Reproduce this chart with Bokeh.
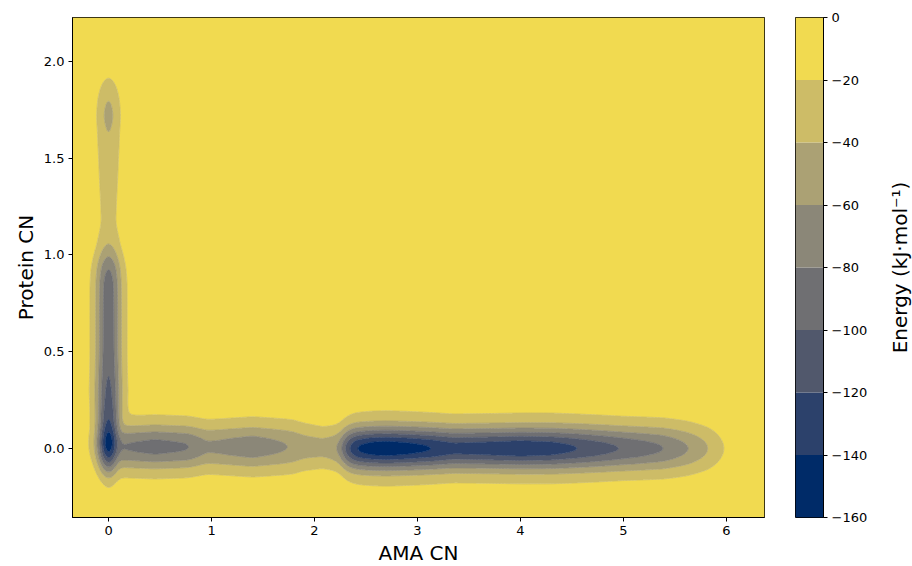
import numpy as np
from bokeh.plotting import figure
from bokeh.layouts import row
from bokeh.models import FixedTicker, Range1d
from bokeh.palettes import Cividis256
from bokeh.embed import file_html
from bokeh.resources import INLINE

# ---------------- data ----------------
levels = [-160, -140, -120, -100, -80, -60, -40, -20, 0]
level_labels = ["−160", "−140", "−120", "−100", "−80", "−60", "−40", "−20", "0"]
x_ticks = [0, 1, 2, 3, 4, 5, 6]
x_tick_labels = ["0", "1", "2", "3", "4", "5", "6"]
y_ticks = [0.0, 0.5, 1.0, 1.5, 2.0]
y_tick_labels = ["0.0", "0.5", "1.0", "1.5", "2.0"]
x_limits = [-0.35, 6.37]
y_limits = [-0.357, 2.227]
colorbar_title = "Energy (kJ·mol⁻¹)"

# valley along AMA CN (Protein CN ~ 0): depth (kJ/mol, magnitude) at AMA CN knots
h_x = [-0.30, -0.10, 0.00, 0.10, 0.18, 0.45, 0.77, 0.95, 1.05, 1.40, 1.74, 1.90,
       2.08, 2.17, 2.23, 2.27, 2.30, 2.34, 2.41, 2.55, 2.70, 2.90, 3.13, 3.35,
       3.70, 4.00, 4.30, 4.55, 4.95, 5.39, 5.63, 5.82, 5.97, 6.15, 6.40]
h_depth = [0, 10, 50, 75, 81, 88, 81, 63, 64, 73, 60, 50,
           47, 52, 60, 80, 100, 120, 140, 152, 156, 150, 140, 127,
           131, 136, 131, 120, 100, 80, 60, 40, 20, 6, 0]
h_w_x = [-0.35, 0.80, 1.80, 2.08, 2.30, 4.00, 5.00, 5.60, 6.40]
h_width = [1.10, 1.10, 1.15, 1.00, 1.00, 1.00, 1.05, 1.12, 1.15]
h_c_x = [-0.35, 1.90, 2.30, 6.40]
h_centre = [0.008, 0.008, 0.0, 0.0]

# valley along Protein CN (AMA CN ~ 0): depth at Protein CN knots
v_y = [-0.45, -0.30, -0.19, -0.148, -0.119, -0.093, -0.07, -0.045, -0.019, 0.03,
       0.084, 0.14, 0.25, 0.37, 0.50, 0.70, 0.85, 0.93, 0.99, 1.05, 1.12, 1.17,
       1.30, 1.50, 1.64, 1.72, 1.80, 1.86, 1.91, 2.00, 2.10]
v_depth = [0, 6, 20, 40, 60, 80, 100, 120, 140, 156,
           140, 120, 108, 100, 94, 93, 91, 80, 60, 40, 30, 26,
           28, 34, 40, 46, 40, 30, 20, 8, 0]
v_w_y = [-0.45, -0.05, 0.10, 0.30, 1.00, 1.30, 1.72, 2.20]
v_width = [1.00, 1.00, 1.00, 1.15, 1.18, 1.20, 1.10, 1.10]

# ---------------- surface ----------------
def cross(u):
    return 0.8 * np.exp(-u**2 / (2 * 0.072**2)) + 0.2 * np.exp(-u**2 / (2 * 0.175**2))

def smooth(vals, step, sigma):
    n = int(np.ceil(3 * sigma / step))
    k = np.exp(-0.5 * (np.arange(-n, n + 1) * step / sigma) ** 2)
    k /= k.sum()
    return np.convolve(np.pad(vals, n, mode="edge"), k, mode="valid")

xs = np.linspace(x_limits[0], x_limits[1], 480)
ys = np.linspace(y_limits[0], y_limits[1], 360)
X, Y = np.meshgrid(xs, ys)

Dh = smooth(np.interp(xs, h_x, h_depth), xs[1] - xs[0], 0.025)
Hw = np.interp(xs, h_w_x, h_width)
Hc = np.interp(xs, h_c_x, h_centre)
Eh = Dh[None, :] * cross((Y - Hc[None, :]) / Hw[None, :])

Dv = smooth(np.interp(ys, v_y, v_depth), ys[1] - ys[0], 0.02)
Vw = np.interp(ys, v_w_y, v_width)
Ev = Dv[:, None] * cross(X / Vw[:, None])

E = -(Eh**3 + Ev**3) ** (1.0 / 3.0)
E = np.clip(E, -159.9, -0.01)

colors = [Cividis256[int(round(((a + b) / 2 - levels[0]) / (levels[-1] - levels[0]) * 255))]
          for a, b in zip(levels[:-1], levels[1:])]
# contour line at each level painted in the colour of the band below it (hides seams)
line_colors = [colors[0]] + colors

FONT = "DejaVu Sans"

def style_axis(ax, label_size="20px"):
    ax.major_tick_out = 4
    ax.major_tick_in = 0
    ax.minor_tick_line_color = None
    ax.axis_line_color = "black"
    ax.major_tick_line_color = "black"
    ax.major_label_text_font = FONT
    ax.major_label_text_font_size = "13px"
    ax.major_label_text_color = "black"
    ax.major_label_standoff = 4
    ax.axis_label_text_font = FONT
    ax.axis_label_text_font_size = label_size
    ax.axis_label_text_font_style = "normal"
    ax.axis_label_text_color = "black"
    ax.axis_label_standoff = 3

# ---------------- main plot ----------------
p = figure(frame_width=692, frame_height=500,
           x_range=Range1d(*x_limits), y_range=Range1d(*y_limits),
           output_backend="svg", toolbar_location=None,
           min_border_left=72, min_border_right=16, min_border_top=17, min_border_bottom=49)
p.contour(x=xs, y=ys, z=E, levels=levels, fill_color=colors,
          line_color=line_colors, line_width=0.8)
p.grid.visible = False
p.outline_line_color = "black"
p.outline_line_width = 1
p.xaxis.ticker = FixedTicker(ticks=x_ticks)
p.xaxis.major_label_overrides = {t: s for t, s in zip(x_ticks, x_tick_labels)}
p.yaxis.ticker = FixedTicker(ticks=y_ticks)
p.yaxis.major_label_overrides = {t: s for t, s in zip(y_ticks, y_tick_labels)}
p.xaxis.axis_label = "AMA CN"
p.yaxis.axis_label = "Protein CN"
style_axis(p.xaxis[0])
style_axis(p.yaxis[0])

# ---------------- colour bar ----------------
cb = figure(frame_width=28, frame_height=500,
            x_range=Range1d(0, 1), y_range=Range1d(levels[0], levels[-1]),
            x_axis_location=None, y_axis_location="right",
            output_backend="svg", toolbar_location=None,
            min_border_left=15, min_border_right=50, min_border_top=17, min_border_bottom=49)
cb.quad(left=0, right=1, bottom=levels[:-1], top=levels[1:],
        fill_color=colors, line_color=None)
cb.grid.visible = False
cb.outline_line_color = "black"
cb.outline_line_width = 1
cb.yaxis.ticker = FixedTicker(ticks=levels)
cb.yaxis.major_label_overrides = {t: s for t, s in zip(levels, level_labels)}
style_axis(cb.yaxis[0])

# ---------------- colour-bar title (left axis label of an empty strip) ----------------
lab = figure(frame_width=1, frame_height=500,
             x_range=Range1d(0, 1), y_range=Range1d(0, 1),
             x_axis_location=None, y_axis_location="left",
             output_backend="svg", toolbar_location=None,
             min_border_left=38, min_border_right=0, min_border_top=17, min_border_bottom=49)
lab.grid.visible = False
lab.outline_line_color = None
lab.yaxis.ticker = FixedTicker(ticks=[])
lab.yaxis.axis_label = colorbar_title
style_axis(lab.yaxis[0])
lab.yaxis.axis_line_color = None
lab.yaxis.major_tick_line_color = None
lab.yaxis.axis_label_standoff = 0

layout = row(p, cb, lab)
open("out.html", "w").write(file_html(layout, INLINE))
